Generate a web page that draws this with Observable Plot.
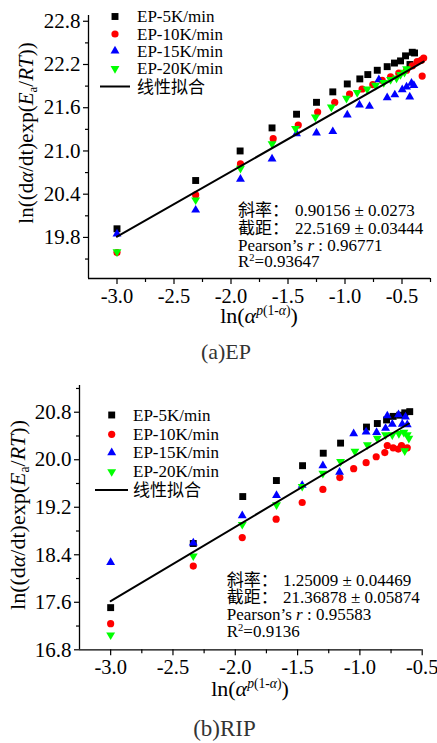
<!DOCTYPE html>
<html><head><meta charset="utf-8">
<script src="https://cdn.jsdelivr.net/npm/d3@7"></script>
<script src="https://cdn.jsdelivr.net/npm/@observablehq/plot@0.6"></script>
<style>
body{margin:0;background:#fff;}
#wrap{position:relative;width:437px;height:743px;overflow:hidden;background:#fff;}
.cap{position:absolute;left:0;width:437px;text-align:center;font-family:"Liberation Serif","Times New Roman",serif;color:#333;white-space:nowrap;}
</style></head><body><div id="wrap"></div>
<script>
const serif = '"Liberation Serif","Noto Sans CJK SC",serif';

// ---------- shared labels ----------
const legendNames = ["EP-5K/min", "EP-10K/min", "EP-15K/min", "EP-20K/min"];
const fitName = "线性拟合";
const seriesColors = ["#000000", "#ff0000", "#0000ff", "#00ff00"];
const statLabels = ["斜率：", "截距："];

// ---------- panel (a) EP ----------
const a5x  = [-3.0, -2.31, -1.92, -1.64, -1.425, -1.25, -1.107, -0.98, -0.87, -0.80, -0.717, -0.63, -0.566, -0.513, -0.469, -0.43, -0.41, -0.39];
const a5y  = [19.92, 20.59, 21.0, 21.32, 21.51, 21.675, 21.82, 21.93, 22.0, 22.06, 22.12, 22.17, 22.22, 22.25, 22.32, 22.2, 22.37, 22.36];
const a10x = [-3.0, -2.31, -1.917, -1.63, -1.41, -1.24, -1.09, -0.96, -0.85, -0.756, -0.674, -0.6, -0.528, -0.46, -0.41, -0.367, -0.33, -0.31, -0.323];
const a10y = [19.59, 20.39, 20.82, 21.17, 21.36, 21.54, 21.675, 21.79, 21.86, 21.92, 21.98, 22.03, 22.08, 22.12, 22.18, 22.24, 22.26, 22.29, 22.04];
const a15x = [-3.0, -2.31, -1.917, -1.64, -1.425, -1.25, -1.107, -0.98, -0.873, -0.785, -0.703, -0.63, -0.563, -0.498, -0.46, -0.432, -0.417, -0.396];
const a15y = [19.85, 20.18, 20.61, 20.89, 21.24, 21.25, 21.27, 21.50, 21.64, 21.62, 21.99, 21.74, 21.78, 21.85, 21.89, 21.75, 21.94, 21.91];
const a20x = [-3.0, -2.31, -1.917, -1.64, -1.434, -1.26, -1.12, -0.987, -0.893, -0.806, -0.732, -0.66, -0.6, -0.548, -0.513, -0.478, -0.46];
const a20y = [19.60, 20.32, 20.76, 21.10, 21.31, 21.47, 21.61, 21.73, 21.81, 21.86, 21.91, 21.95, 21.99, 22.01, 22.06, 22.09, 22.14];
const aFitX = [-3.0, -0.31];
const aFitY = [19.81, 22.24];
const aXTicks = [-3.0, -2.5, -2.0, -1.5, -1.0, -0.5];
const aXMinor = [-2.75, -2.25, -1.75, -1.25, -0.75, -0.25];
const aYTicks = [19.8, 20.4, 21.0, 21.6, 22.2, 22.8];
const aYMinor = [19.5, 20.1, 20.7, 21.3, 21.9, 22.5];
const aStats = ["0.90156 ± 0.0273", "22.5169 ± 0.03444", "0.96771", "0.93647"];
const aCaption = "(a)EP";

// ---------- panel (b) RIP ----------
const b5x  = [-3.0, -2.337, -1.94, -1.67, -1.46, -1.294, -1.155, -0.947, -0.86, -0.786, -0.733, -0.68, -0.64, -0.60];
const b5y  = [17.51, 18.59, 19.38, 19.65, 19.90, 20.11, 20.28, 20.55, 20.61, 20.67, 20.73, 20.75, 20.79, 20.81];
const b10x = [-3.0, -2.337, -1.944, -1.672, -1.463, -1.297, -1.161, -1.05, -0.95, -0.869, -0.80, -0.78, -0.733, -0.692, -0.666, -0.62];
const b10y = [17.24, 18.21, 18.69, 19.00, 19.28, 19.50, 19.70, 19.85, 19.95, 20.05, 20.12, 20.24, 20.20, 20.18, 20.24, 20.20];
const b15x = [-3.0, -2.337, -1.944, -1.669, -1.463, -1.297, -1.163, -1.05, -0.95, -0.866, -0.794, -0.78, -0.74, -0.69, -0.66, -0.634, -0.62];
const b15y = [18.27, 18.60, 19.06, 19.40, 19.57, 19.90, 19.79, 20.44, 20.47, 20.46, 20.53, 20.74, 20.60, 20.76, 20.60, 20.72, 20.59];
const b20x = [-3.0, -2.337, -1.944, -1.669, -1.463, -1.297, -1.155, -1.04, -0.94, -0.86, -0.794, -0.74, -0.687, -0.647, -0.62, -0.607, -0.64];
const b20y = [17.05, 18.38, 18.91, 19.24, 19.55, 19.77, 19.97, 20.14, 20.25, 20.36, 20.42, 20.42, 20.44, 20.46, 20.42, 20.36, 20.15];
const bFitX = [-3.0, -0.607];
const bFitY = [17.62, 20.61];
const bXTicks = [-3.0, -2.5, -2.0, -1.5, -1.0, -0.5];
const bXMinor = [-2.75, -2.25, -1.75, -1.25, -0.75];
const bYTicks = [16.8, 17.6, 18.4, 19.2, 20.0, 20.8];
const bYMinor = [17.2, 18.0, 18.8, 19.6, 20.4, 21.2];
const bStats = ["1.25009 ± 0.04469", "21.36878 ± 0.05874", "0.95583", "0.9136"];
const bCaption = "(b)RIP";

// ---------- symbols ----------
const triangleDown = {
  draw(context, size) {
    const y = -Math.sqrt(size / (Math.sqrt(3) * 3));
    context.moveTo(0, -y * 2);
    context.lineTo(-Math.sqrt(3) * y, y);
    context.lineTo(Math.sqrt(3) * y, y);
    context.closePath();
  }
};
const symbols = [d3.symbolSquare, d3.symbolCircle, d3.symbolTriangle, triangleDown];
const radii = [3.9, 3.6, 3.3, 3.3];

function richText(sel, parts, baseSize) {
  let shift = 0;
  parts.forEach(p => {
    const ts = sel.append("tspan").text(p.t);
    let target = 0, size = baseSize;
    if (p.sub) { target = baseSize * 0.2; size = baseSize * 0.62; }
    if (p.sup) { target = -baseSize * 0.38; size = baseSize * 0.62; }
    ts.attr("font-size", size);
    if (p.it) ts.attr("font-style", "italic");
    if (target !== shift) { ts.attr("dy", target - shift); shift = target; }
  });
}

function buildPanel(p) {
  const rows = (xs, ys) => xs.map((x, i) => ({x, y: ys[i]}));
  const marks = [];
  marks.push(Plot.ruleX([p.xDomain[0]], {stroke: "#000", strokeWidth: 1.3}));
  marks.push(Plot.ruleY([p.yDomain[0]], {stroke: "#000", strokeWidth: 1.3}));
  marks.push(Plot.axisX(p.xMinor, {tickSize: 4, tickFormat: () => "", label: null, strokeWidth: 1.2}));
  marks.push(Plot.axisX(p.xTicks, {tickSize: 6, tickPadding: 4, tickFormat: d => d.toFixed(1), fontSize: 20.5, label: null, strokeWidth: 1.2, fill: "#000"}));
  marks.push(Plot.axisY(p.yMinor, {tickSize: 3, tickFormat: () => "", label: null, strokeWidth: 1.2}));
  marks.push(Plot.axisY(p.yTicks, {tickSize: 5, tickPadding: 3, tickFormat: d => d.toFixed(1), fontSize: 21, label: null, strokeWidth: 1.2, fill: "#000"}));
  p.series.forEach((s, i) => {
    marks.push(Plot.dot(rows(s[0], s[1]), {x: "x", y: "y", symbol: symbols[i], r: radii[i], fill: seriesColors[i]}));
  });
  marks.push(Plot.line(rows(p.fitX, p.fitY), {x: "x", y: "y", stroke: "#000", strokeWidth: 2}));

  // legend, axis titles, statistics
  marks.push((index, scales, values, dims) => {
    const g = d3.create("svg:g").attr("font-family", serif).attr("fill", "#000").attr("text-anchor", "start");
    const L = p.legend;
    legendNames.forEach((n, i) => {
      g.append("path")
        .attr("d", d3.symbol(symbols[i], Math.PI * radii[i] * radii[i])())
        .attr("transform", `translate(${L.sx},${L.rows[i]})`)
        .attr("fill", seriesColors[i]);
      g.append("text").attr("x", L.tx).attr("y", L.rows[i]).attr("dy", "0.34em")
        .attr("text-anchor", "start").attr("font-size", 17).text(n);
    });
    g.append("line").attr("x1", L.lx1).attr("x2", L.lx2).attr("y1", L.rows[4]).attr("y2", L.rows[4])
      .attr("stroke", "#000").attr("stroke-width", 2);
    g.append("text").attr("x", L.tx).attr("y", L.rows[4]).attr("dy", "0.36em")
      .attr("text-anchor", "start")
      .attr("font-size", 17).attr("font-family", '"Noto Sans CJK SC",sans-serif').text(fitName);

    // y label
    const yl = g.append("text")
      .attr("transform", `translate(${p.yl.x},${p.yl.y}) rotate(-90)`)
      .attr("text-anchor", "middle").attr("font-size", p.yl.size);
    richText(yl, [
      {t: "ln((d"}, {t: "α", it: true}, {t: p.yl.dt}, {t: "exp("}, {t: "E", it: true}, {t: "a", sub: true},
      {t: "/"}, {t: "RT", it: true}, {t: "))"}
    ], p.yl.size);

    // x label
    const xl = g.append("text").attr("x", p.xl.x).attr("y", p.xl.y)
      .attr("text-anchor", "middle").attr("font-size", p.xl.size);
    richText(xl, [
      {t: "ln("}, {t: "α", it: true}, {t: "p", sup: true, it: true}, {t: "(1-", sup: true},
      {t: "α", sup: true, it: true}, {t: ")", sup: true}, {t: ")"}
    ], p.xl.size);

    // statistics
    const S = p.stats;
    const fs = 17;
    [0, 1].forEach(i => {
      g.append("text").attr("x", S.x0).attr("y", S.rows[i]).attr("font-size", fs).attr("text-anchor", "start")
        .attr("font-family", '"Noto Sans CJK SC",sans-serif').text(statLabels[i]);
      g.append("text").attr("x", S.xv).attr("y", S.rows[i]).attr("font-size", fs).attr("text-anchor", "start")
        .text(p.statVals[i]);
    });
    const t3 = g.append("text").attr("x", S.x0).attr("y", S.rows[2]).attr("font-size", fs).attr("text-anchor", "start");
    richText(t3, [{t: "Pearson’s "}, {t: "r", it: true}, {t: " : " + p.statVals[2]}], fs);
    const t4 = g.append("text").attr("x", S.x0).attr("y", S.rows[3]).attr("font-size", fs).attr("text-anchor", "start");
    richText(t4, [{t: "R"}, {t: "2", sup: true}, {t: "=" + p.statVals[3]}], fs);
    return g.node();
  });

  return Plot.plot({
    width: 437,
    height: 340,
    marginLeft: p.ml, marginRight: p.mr, marginTop: p.mt, marginBottom: p.mb,
    x: {domain: p.xDomain, label: null},
    y: {domain: p.yDomain, label: null},
    style: {fontFamily: serif, background: "transparent", color: "#000", overflow: "visible"},
    marks
  });
}

const panelA = {
  ml: 88, mr: 7, mt: 15, mb: 62,
  xDomain: [-3.25, -0.25], yDomain: [19.23, 22.88],
  xTicks: aXTicks, xMinor: aXMinor, yTicks: aYTicks, yMinor: aYMinor,
  series: [[a5x, a5y], [a10x, a10y], [a15x, a15y], [a20x, a20y]],
  fitX: aFitX, fitY: aFitY,
  legend: {sx: 115, tx: 137, lx1: 100, lx2: 130, rows: [16.5, 34, 51, 68.5, 86.5]},
  yl: {x: 33, y: 133, size: 21, dt: "/dt)"},
  xl: {x: 259, y: 323, size: 22},
  stats: {x0: 238, xv: 295, rows: [216, 234, 251, 267]},
  statVals: aStats
};
const panelB = {
  ml: 79, mr: 15.3, mt: 15, mb: 60.7,
  xDomain: [-3.25, -0.5], yDomain: [16.8, 21.25],
  xTicks: bXTicks, xMinor: bXMinor, yTicks: bYTicks, yMinor: bYMinor,
  series: [[b5x, b5y], [b10x, b10y], [b15x, b15y], [b20x, b20y]],
  fitX: bFitX, fitY: bFitY,
  legend: {sx: 111.7, tx: 133, lx1: 95, lx2: 128, rows: [45, 64.3, 82.7, 101.7, 120]},
  yl: {x: 25, y: 145, size: 22, dt: "/dt)"},
  xl: {x: 250, y: 326, size: 22},
  stats: {x0: 226.7, xv: 283, rows: [216, 233, 250, 267]},
  statVals: bStats
};

const wrap = document.getElementById("wrap");
const svgA = buildPanel(panelA);
svgA.style.position = "absolute"; svgA.style.left = "0px"; svgA.style.top = "0px";
wrap.append(svgA);
const capA = document.createElement("div");
capA.className = "cap"; capA.textContent = aCaption;
capA.style.cssText = "top:341px;font-size:22px;line-height:22px;padding-left:15px;box-sizing:border-box;";
wrap.append(capA);
const svgB = buildPanel(panelB);
svgB.style.position = "absolute"; svgB.style.left = "0px"; svgB.style.top = "370px";
wrap.append(svgB);
const capB = document.createElement("div");
capB.className = "cap"; capB.textContent = bCaption;
capB.style.cssText = "top:717px;font-size:23px;line-height:23px;padding-left:12px;box-sizing:border-box;";
wrap.append(capB);
</script>
</body></html>
